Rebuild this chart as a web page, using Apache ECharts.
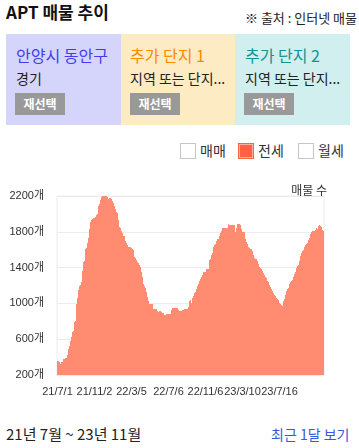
<!DOCTYPE html>
<html>
<head>
<meta charset="utf-8">
<script src="https://cdn.jsdelivr.net/npm/echarts@6/dist/echarts.min.js"></script>
<style>
  html, body { margin: 0; padding: 0; }
  body { width: 359px; height: 448px; position: relative; overflow: hidden; background: #fff;
         font-family: "Noto Sans CJK KR", "Noto Sans", sans-serif; color: #222; }
  .abs { position: absolute; white-space: nowrap; }
  #title { left: 6px; top: 2px; font-size: 17px; line-height: 20px; font-weight: bold; color: #111; }
  #source { left: 245px; top: 10px; font-size: 13px; line-height: 15px; color: #222; }
  .card { position: absolute; top: 34px; height: 91px; }
  .card div { white-space: nowrap; }
  .card .ct { position: absolute; left: 10px; top: 12px; font-size: 16px; line-height: 19px; }
  .card .s { position: absolute; left: 10px; top: 36px; font-size: 14px; line-height: 16px; color: #222; }
  .card .b { position: absolute; left: 9px; top: 59px; width: 50px; height: 22px; background: #999;
             color: #fff; font-size: 12px; font-weight: bold; line-height: 22px; text-align: center; }
  .lg { position: absolute; top: 143px; height: 16px; }
  .lg .i { position: absolute; left: 0; top: 0; width: 14px; height: 14px; border: 1px solid #c3c6cf; background: #fff; }
  .lg .i.on { background: #ff6240; border-color: #ff6240; box-shadow: inset 0 0 0 1px #ffb09e; }
  .lg .x { position: absolute; left: 20px; top: -1px; font-size: 14px; line-height: 17px; color: #333; white-space: nowrap; }
  #chart { position: absolute; left: 0; top: 170px; width: 359px; height: 230px; }
  #range { left: 6px; top: 425px; font-size: 15px; line-height: 18px; color: #222; }
  #recent { left: 271px; top: 426px; font-size: 14px; line-height: 17px; color: #3a58dc; }
</style>
</head>
<body>
<div id="title" class="abs">APT 매물 추이</div>
<div id="source" class="abs">※ 출처 : 인터넷 매물</div>

<div class="card" style="left:6px;width:115px;background:#d5d5fb;">
  <div class="ct" style="color:#3f3ff0;">안양시 동안구</div>
  <div class="s">경기</div>
  <div class="b">재선택</div>
</div>
<div class="card" style="left:121px;width:114px;background:#fdebc3;">
  <div class="ct" style="left:9px;color:#ff8a00;">추가 단지 1</div>
  <div class="s" style="left:9px;">지역 또는 단지...</div>
  <div class="b">재선택</div>
</div>
<div class="card" style="left:235px;width:115px;background:#d0efee;">
  <div class="ct" style="color:#119393;">추가 단지 2</div>
  <div class="s">지역 또는 단지...</div>
  <div class="b">재선택</div>
</div>

<div class="lg" style="left:180px;"><div class="i"></div><div class="x">매매</div></div>
<div class="lg" style="left:238px;"><div class="i on"></div><div class="x">전세</div></div>
<div class="lg" style="left:298px;"><div class="i"></div><div class="x">월세</div></div>

<div id="chart"></div>

<div id="range" class="abs">21년 7월 ~ 23년 11월</div>
<div id="recent" class="abs">최근 1달 보기</div>

<script>
// Tick labels shown on the x axis (every 37th data point)
const tickLabels = ['21/7/1', '21/11/2', '22/3/5', '22/7/6', '22/11/6', '23/3/10', '23/7/16'];
const tickEvery = 37;

// 전세 매물 수 (listing counts)
const jeonseCounts = [
  356, 356, 345, 323, 345, 345, 379, 379, 390, 390,
  423, 490, 524, 580, 625, 680, 691, 792, 803, 993,
  1060, 1150, 1194, 1205, 1240, 1362, 1463, 1474, 1608, 1619,
  1675, 1730, 1830, 1909, 1931, 1943, 1954, 1954, 1965, 1987,
  1998, 2088, 2110, 2155, 2188, 2200, 2200, 2200, 2222, 2210,
  2188, 2166, 2177, 2177, 2166, 2144, 2121, 2088, 2054, 2021,
  2010, 1931, 1853, 1842, 1808, 1786, 1752, 1752, 1697, 1675,
  1652, 1630, 1630, 1630, 1619, 1608, 1596, 1518, 1507, 1485,
  1463, 1451, 1429, 1406, 1351, 1295, 1217, 1194, 1172, 1127,
  1071, 1026, 993, 993, 993, 993, 937, 937, 937, 937,
  915, 903, 915, 915, 903, 892, 892, 870, 870, 881,
  881, 881, 881, 881, 926, 948, 948, 948, 948, 948,
  948, 926, 915, 915, 915, 926, 926, 937, 937, 937,
  937, 959, 1026, 1038, 1004, 1060, 1083, 1116, 1127, 1161,
  1194, 1217, 1250, 1272, 1295, 1317, 1351, 1351, 1351, 1384,
  1384, 1384, 1485, 1496, 1541, 1563, 1630, 1652, 1663, 1697,
  1719, 1719, 1752, 1786, 1808, 1842, 1842, 1842, 1842, 1842,
  1842, 1887, 1876, 1876, 1876, 1876, 1876, 1876, 1797, 1842,
  1887, 1887, 1887, 1876, 1830, 1797, 1797, 1797, 1719, 1686,
  1663, 1630, 1619, 1608, 1608, 1585, 1541, 1507, 1496, 1496,
  1474, 1440, 1406, 1395, 1384, 1362, 1340, 1317, 1295, 1284,
  1250, 1240, 1205, 1183, 1161, 1138, 1116, 1094, 1083, 1060,
  1049, 1038, 1004, 993, 981, 970, 1026, 1049, 1094, 1138,
  1161, 1172, 1217, 1240, 1250, 1261, 1295, 1328, 1351, 1395,
  1418, 1429, 1474, 1529, 1563, 1585, 1596, 1630, 1652, 1663,
  1675, 1708, 1730, 1775, 1797, 1808, 1808, 1808, 1820, 1842,
  1830, 1864, 1876, 1864, 1853, 1820, 1808
];

// Y axis range
const yMin = 200, yMax = 2200, yStep = 400;

const categories = jeonseCounts.map((v, i) => String(i));

const chart = echarts.init(document.getElementById('chart'), null, { renderer: 'canvas' });
const font = '"Noto Sans CJK KR", "Noto Sans", sans-serif';
const axisFont = '"Liberation Sans", "Noto Sans CJK KR", sans-serif';
chart.setOption({
  animation: false,
  textStyle: { fontFamily: font },
  grid: { left: 57, top: 26, width: 267, height: 179, show: true, borderColor: '#ececec', borderWidth: 1, backgroundColor: 'transparent' },
  graphic: [{
    type: 'text', right: 32, top: 14,
    style: { text: '매물 수', fontSize: 12, fill: '#333', fontFamily: font }
  }],
  xAxis: {
    type: 'category',
    data: categories,
    boundaryGap: true,
    axisLine: { show: false },
    axisTick: { show: false },
    axisLabel: {
      interval: tickEvery - 1,
      margin: 11,
      fontSize: 11,
      color: '#333',
      fontFamily: axisFont,
      formatter: (v, idx) => tickLabels[Math.round(idx / tickEvery)] || ''
    },
    splitLine: { show: false }
  },
  yAxis: {
    type: 'value',
    min: yMin, max: yMax, interval: yStep,
    axisLine: { show: false },
    axisTick: { show: false },
    axisLabel: { fontSize: 11, color: '#333', margin: 13, fontFamily: axisFont, formatter: v => v + '개' },
    splitLine: { lineStyle: { color: '#ececec', width: 1 } }
  },
  series: [{
    name: '전세',
    type: 'bar',
    data: jeonseCounts,
    barCategoryGap: '0%',
    barWidth: '100%',
    itemStyle: { color: '#ff8c71' },
    silent: true
  }]
});
</script>
</body>
</html>
